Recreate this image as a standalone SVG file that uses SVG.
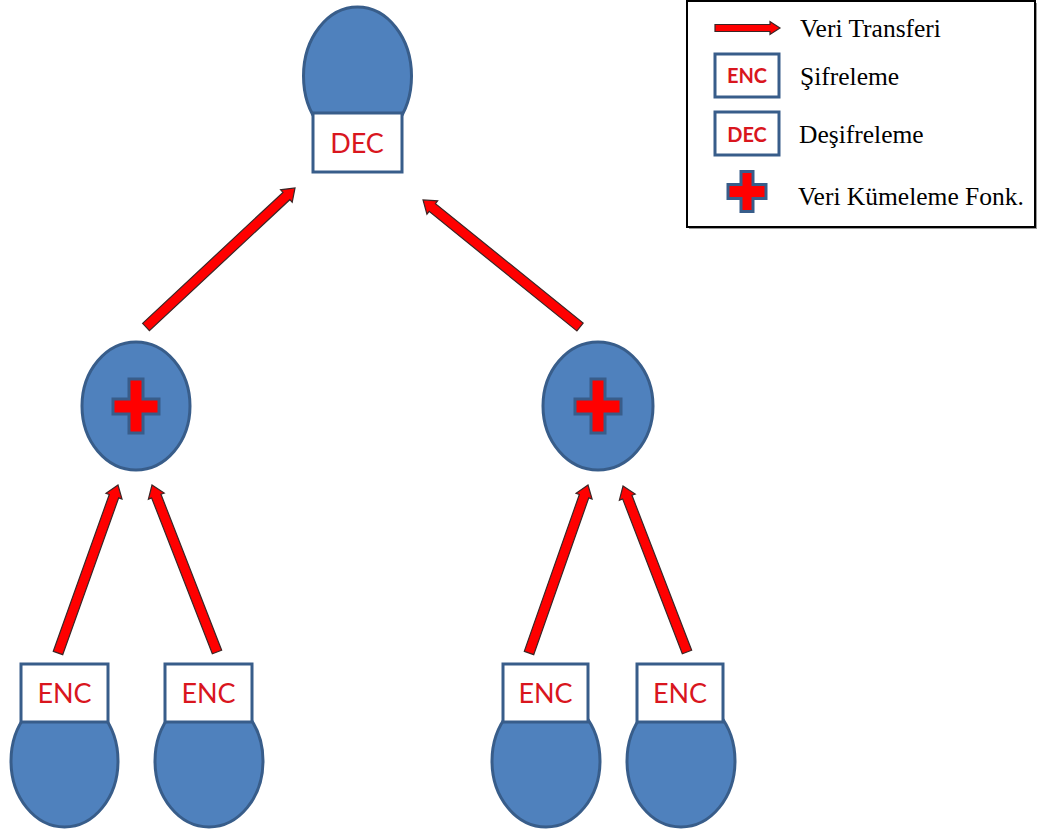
<svg xmlns="http://www.w3.org/2000/svg" width="1037" height="832" viewBox="0 0 1037 832">
  <style>
    .node { fill: #4f81bd; stroke: #385d8a; stroke-width: 3; }
    .box { fill: #ffffff; stroke: #385d8a; stroke-width: 3; }
    .lbl { font-family: Lato, "Open Sans", sans-serif; font-size: 27px; fill: #d9161e; text-anchor: middle; }
    .slbl { font-family: Lato, "Open Sans", sans-serif; font-size: 20px; fill: #d9161e; text-anchor: middle; font-weight: bold; }
    .arrow { fill: #ff0000; stroke: #3a2626; stroke-width: 1.2; stroke-linejoin: miter; }
    .plus { fill: #ff0000; stroke: #385d8a; stroke-width: 3; }
    .leg { font-family: "Liberation Serif", serif; font-size: 25.5px; fill: #000000; }
  </style>
  <defs>
    <path id="plusBig" d="M-7,-27 H7 V-7 H23 V8 H7 V27 H-7 V8 H-23 V-7 H-7 Z"/>
    <path id="plusSmall" d="M-6,-20 H6 V-7 H19 V7 H6 V20 H-6 V7 H-19 V-7 H-6 Z"/>
  </defs>
  <rect width="1037" height="832" fill="#ffffff"/>

  <g id="root">
    <ellipse class="node" cx="357.5" cy="76" rx="54" ry="69"/>
    <rect class="box" x="313" y="113" width="89" height="59"/>
    <text class="lbl" x="357" y="153">DEC</text>
  </g>

  <g id="agg-left">
    <ellipse class="node" cx="136" cy="406" rx="54" ry="64"/>
    <use href="#plusBig" class="plus" x="136" y="406"/>
  </g>
  <g id="agg-right">
    <ellipse class="node" cx="598" cy="406" rx="55" ry="64"/>
    <use href="#plusBig" class="plus" x="598" y="406"/>
  </g>

  <g id="leaf1">
    <ellipse class="node" cx="64.5" cy="761" rx="53.5" ry="66"/>
    <rect class="box" x="21" y="664" width="87" height="58"/>
    <text class="lbl" x="64.5" y="703">ENC</text>
  </g>
  <g id="leaf2">
    <ellipse class="node" cx="209" cy="761" rx="54" ry="66"/>
    <rect class="box" x="165" y="664" width="87" height="58"/>
    <text class="lbl" x="208.5" y="703">ENC</text>
  </g>
  <g id="leaf3">
    <ellipse class="node" cx="546" cy="761" rx="54" ry="66"/>
    <rect class="box" x="503" y="664" width="85" height="58"/>
    <text class="lbl" x="545.5" y="703">ENC</text>
  </g>
  <g id="leaf4">
    <ellipse class="node" cx="681" cy="761" rx="54" ry="66"/>
    <rect class="box" x="637" y="664" width="86" height="58"/>
    <text class="lbl" x="680" y="703">ENC</text>
  </g>

  <g id="connectors">
    <path class="arrow" transform="translate(146,327) rotate(-43.01)" d="M0,-5 H192 V-8.5 L203.8,0 L192,8.5 V5 H0 Z"/>
    <path class="arrow" transform="translate(580,327) rotate(-141.03)" d="M0,-5 H190 V-8.5 L201.9,0 L190,8.5 V5 H0 Z"/>
    <path class="arrow" transform="translate(58,653) rotate(-70.35)" d="M0,-5 H166.5 V-8.5 L178.4,0 L166.5,8.5 V5 H0 Z"/>
    <path class="arrow" transform="translate(217,652) rotate(-111.27)" d="M0,-5 H167.3 V-8.5 L179.2,0 L167.3,8.5 V5 H0 Z"/>
    <path class="arrow" transform="translate(529,653) rotate(-70.65)" d="M0,-5 H166.2 V-8.5 L178.1,0 L166.2,8.5 V5 H0 Z"/>
    <path class="arrow" transform="translate(687,652) rotate(-111.08)" d="M0,-5 H166 V-8.5 L177.9,0 L166,8.5 V5 H0 Z"/>
  </g>

  <g id="legend">
    <rect x="689" y="3" width="348" height="226" fill="#9a9a9a"/>
    <rect x="687" y="1" width="348" height="226" fill="#ffffff" stroke="#000000" stroke-width="2"/>
    <path class="arrow" d="M715,24.5 H770 V21.5 L780,28 L770,34.5 V31.5 H715 Z"/>
    <text class="leg" x="800" y="37">Veri Transferi</text>
    <rect class="box" x="715" y="54" width="64" height="43"/>
    <text class="slbl" x="747" y="83">ENC</text>
    <text class="leg" x="800" y="85">Şifreleme</text>
    <rect class="box" x="715" y="112" width="64" height="43"/>
    <text class="slbl" x="747" y="142">DEC</text>
    <text class="leg" x="799" y="143">Deşifreleme</text>
    <use href="#plusSmall" class="plus" x="747" y="191.5"/>
    <text class="leg" x="798" y="205">Veri Kümeleme Fonk.</text>
  </g>
</svg>
